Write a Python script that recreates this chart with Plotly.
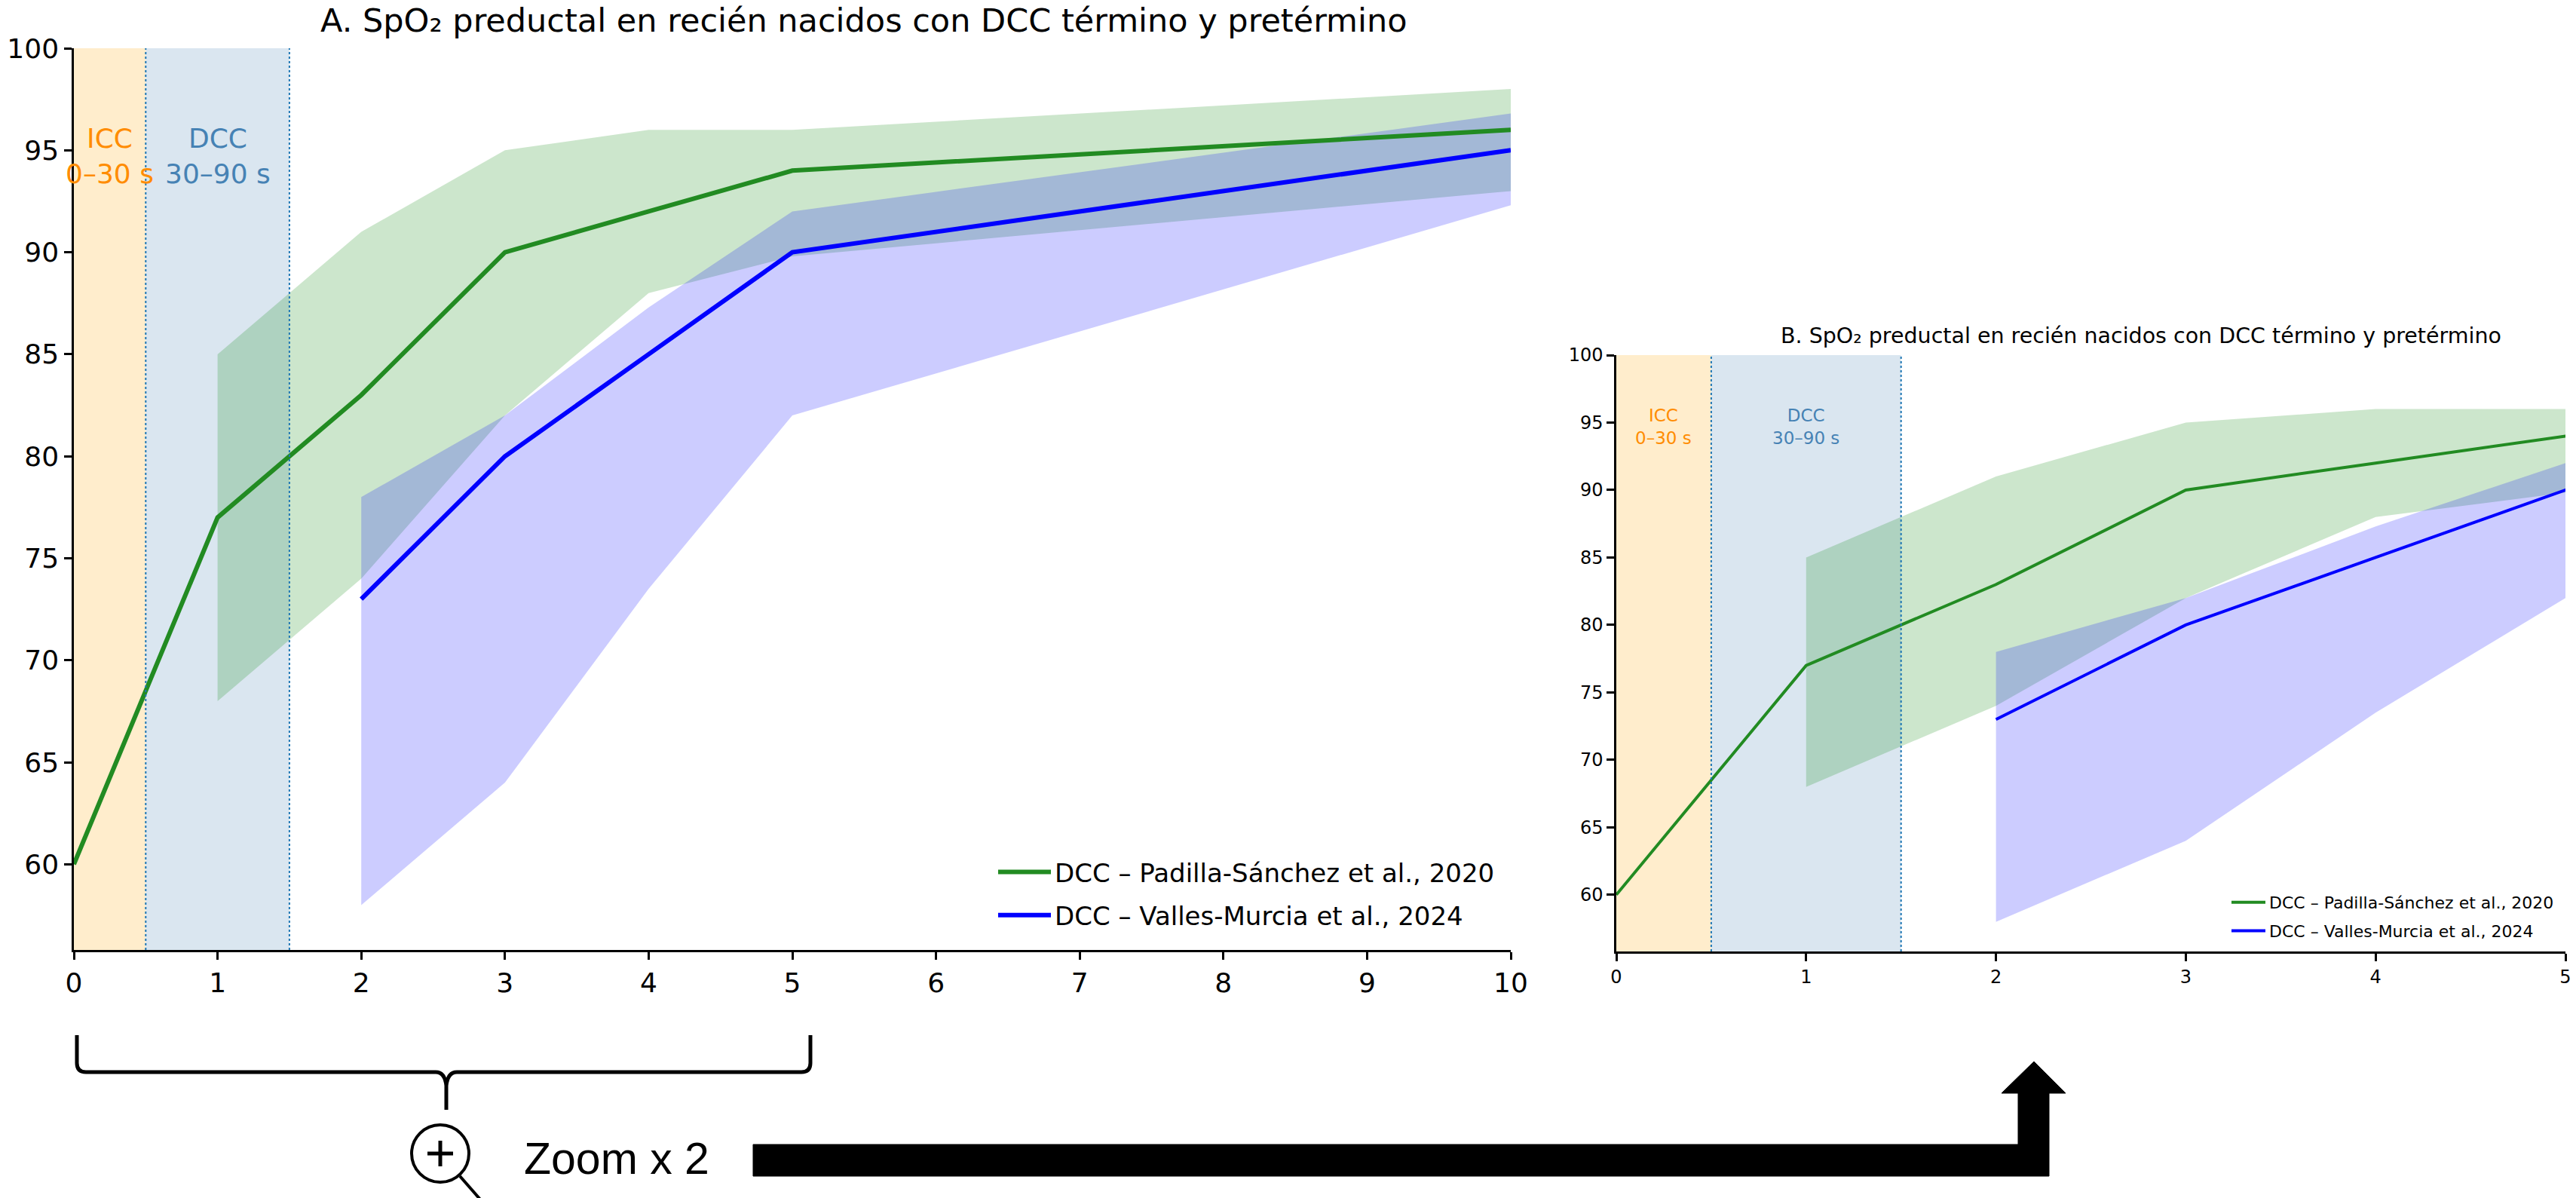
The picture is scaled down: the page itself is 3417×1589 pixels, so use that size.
import plotly.graph_objects as go

# --- datos (SpO2 preductal, minutos) ---
minutos = [0, 1, 2, 3, 4, 5, 10]
padilla_media = [60, 77, 83, 90, 92, 94, 96]
padilla_x_banda = [1, 2, 3, 4, 5, 10]
padilla_inf = [68, 74, 82, 88, 89.8, 93]
padilla_sup = [85, 91, 95, 96, 96, 98]

valles_x = [2, 3, 4, 5, 10]
valles_media = [73, 80, 85, 90, 95]
valles_inf = [58, 64, 73.5, 82, 92.3]
valles_sup = [78, 82, 87.3, 92, 96.8]

fases = ["ICC<br>0–30 s", "DCC<br>30–90 s"]
fases_x = [(0, 0.5), (0.5, 1.5)]

nombre_p = "DCC – Padilla-Sánchez et al., 2020"
nombre_v = "DCC – Valles-Murcia et al., 2024"
titulo = "SpO₂ preductal en recién nacidos con DCC término y pretérmino"

W, H = 3417, 1589
FONT = "DejaVu Sans"


def px(x):
    return x / W


def py(y):
    return 1 - y / H


fig = go.Figure()

# panel A (xaxis/yaxis) y panel B (xaxis2/yaxis2)
paneles = [("x", "y", "legend", 6), ("x2", "y2", "legend2", 4)]
for xa, ya, leg, lw in paneles:
    fig.add_trace(go.Scatter(x=padilla_x_banda, y=padilla_inf, mode="lines", line=dict(width=0),
                             showlegend=False, hoverinfo="skip", xaxis=xa, yaxis=ya))
    fig.add_trace(go.Scatter(x=padilla_x_banda, y=padilla_sup, mode="lines", line=dict(width=0),
                             fill="tonexty", fillcolor="rgba(0,128,0,0.2)",
                             showlegend=False, hoverinfo="skip", xaxis=xa, yaxis=ya))
    fig.add_trace(go.Scatter(x=valles_x, y=valles_inf, mode="lines", line=dict(width=0),
                             showlegend=False, hoverinfo="skip", xaxis=xa, yaxis=ya))
    fig.add_trace(go.Scatter(x=valles_x, y=valles_sup, mode="lines", line=dict(width=0),
                             fill="tonexty", fillcolor="rgba(0,0,255,0.2)",
                             showlegend=False, hoverinfo="skip", xaxis=xa, yaxis=ya))
    fig.add_trace(go.Scatter(x=minutos, y=padilla_media, mode="lines", name=nombre_p,
                             line=dict(color="#228B22", width=lw), legend=leg,
                             legendgroup=leg + "p", xaxis=xa, yaxis=ya))
    fig.add_trace(go.Scatter(x=valles_x, y=valles_media, mode="lines", name=nombre_v,
                             line=dict(color="#0000FF", width=lw), legend=leg,
                             legendgroup=leg + "v", xaxis=xa, yaxis=ya))

    # franjas ICC / DCC
    colores = ["rgba(255,165,0,0.2)", "rgba(70,130,180,0.2)"]
    for (a, b), c in zip(fases_x, colores):
        fig.add_shape(type="rect", xref=xa, yref=ya + " domain", x0=a, x1=b, y0=0, y1=1,
                      fillcolor=c, line_width=0, layer="below")
    for xv in [0.5, 1.5]:
        fig.add_shape(type="line", xref=xa, yref=ya + " domain", x0=xv, x1=xv, y0=0, y1=1,
                      line=dict(color="#1f77b4", width=2, dash="dot"))

ejes = dict(showgrid=False, zeroline=False, showline=True, linecolor="black", linewidth=2.5,
            ticks="outside", ticklen=10, tickwidth=2.5, tickcolor="black", mirror=False,
            automargin=False, ticklabeloverflow="allow")

fig.update_layout(
    width=W, height=H,
    margin=dict(l=0, r=0, t=0, b=0, pad=0),
    plot_bgcolor="white", paper_bgcolor="white",
    font=dict(family=FONT, color="black"),
    xaxis=dict(domain=[px(98), px(2004)], range=[0, 10], dtick=1, anchor="y",
               tickfont=dict(size=36), **ejes),
    yaxis=dict(domain=[py(1260), py(64)], range=[55.8, 100], dtick=5, anchor="x",
               tickfont=dict(size=36), **ejes),
    xaxis2=dict(domain=[px(2144), px(3403)], range=[0, 5], dtick=1, anchor="y2",
                tickfont=dict(size=24), **ejes),
    yaxis2=dict(domain=[py(1262), py(471)], range=[55.8, 100], dtick=5, anchor="x2",
                tickfont=dict(size=24), **ejes),
    legend=dict(x=px(1319), y=py(1128), xanchor="left", yanchor="top", itemwidth=70,
                font=dict(size=34), bgcolor="rgba(0,0,0,0)", tracegroupgap=10),
    legend2=dict(x=px(2955), y=py(1176), xanchor="left", yanchor="top", itemwidth=45,
                 font=dict(size=22), bgcolor="rgba(0,0,0,0)", tracegroupgap=6),
)

# textos de fases
tam = [(("x", "y"), 36, 94.7), (("x2", "y2"), 23, 94.7)]
for (xa, ya), fs, yv in tam:
    for txt, (a, b), col in zip(fases, fases_x, ["#FF8C00", "#4682B4"]):
        fig.add_annotation(x=(a + b) / 2, y=yv, xref=xa, yref=ya, text=txt, showarrow=False,
                           font=dict(size=fs, color=col), align="center")

# titulos
fig.add_annotation(x=px(1145), y=py(27), xref="paper", yref="paper", text="A. " + titulo,
                   showarrow=False, font=dict(size=43), xanchor="center", yanchor="middle")
fig.add_annotation(x=px(2840), y=py(445), xref="paper", yref="paper", text="B. " + titulo,
                   showarrow=False, font=dict(size=28.5), xanchor="center", yanchor="middle")

# llave bajo el eje de 0 a 5
puntos = "M {},{} L {},{} Q {},{} {},{} L {},{} Q {},{} {},{} L {},{} M {},{} Q {},{} {},{} L {},{} Q {},{} {},{} L {},{}"
pts = [(102, 1373), (102, 1410), (102, 1422), (114, 1422), (578, 1422), (590, 1422), (592, 1440),
       (592, 1472), (592, 1440), (594, 1422), (606, 1422), (1063, 1422), (1075, 1422),
       (1075, 1410), (1075, 1373)]
coords = []
for a, b in pts:
    coords += [round(px(a), 5), round(py(b), 5)]
fig.add_shape(type="path", xref="paper", yref="paper", path=puntos.format(*coords),
              line=dict(color="black", width=5))

# lupa
fig.add_shape(type="circle", xref="paper", yref="paper", x0=px(546), x1=px(622),
              y0=py(1568), y1=py(1492), line=dict(color="black", width=4))
fig.add_shape(type="line", xref="paper", yref="paper", x0=px(567), x1=px(601),
              y0=py(1530), y1=py(1530), line=dict(color="black", width=5))
fig.add_shape(type="line", xref="paper", yref="paper", x0=px(584), x1=px(584),
              y0=py(1513), y1=py(1547), line=dict(color="black", width=5))
fig.add_shape(type="line", xref="paper", yref="paper", x0=px(610), x1=px(645),
              y0=py(1560), y1=py(1600), line=dict(color="black", width=4))

fig.add_annotation(x=px(693), y=py(1537), xref="paper", yref="paper", text="Zoom x 2",
                   showarrow=False, font=dict(size=59, family="Liberation Sans"),
                   xanchor="left", yanchor="middle")

# flecha
flecha = [(999, 1518), (2677, 1518), (2677, 1450), (2655, 1450), (2698, 1408), (2740, 1450),
          (2718, 1450), (2718, 1560), (999, 1560)]
ruta = "M " + " L ".join("{:.5f},{:.5f}".format(px(a), py(b)) for a, b in flecha) + " Z"
fig.add_shape(type="path", xref="paper", yref="paper", path=ruta,
              fillcolor="black", line=dict(color="black", width=1))

fig.write_html("out.html", config={"displayModeBar": False},
               post_script="document.body.style.margin='0';document.body.style.overflow='hidden';")
